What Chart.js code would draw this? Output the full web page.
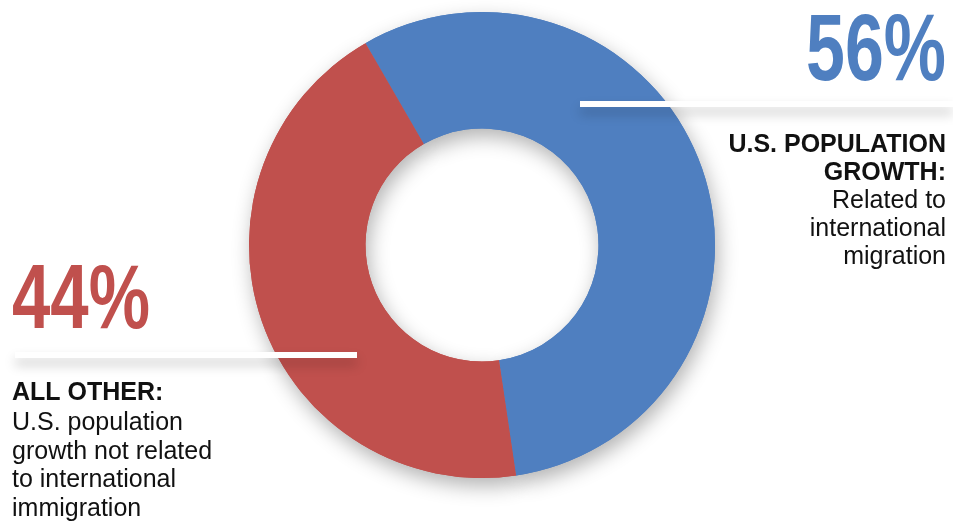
<!DOCTYPE html>
<html>
<head>
<meta charset="utf-8">
<title>U.S. population growth and international migration</title>
<script src="https://cdn.jsdelivr.net/npm/chart.js@4/dist/chart.umd.min.js"></script>
<style>
  html, body { margin: 0; padding: 0; background: #ffffff; }
  canvas { display: block; }
</style>
</head>
<body>
<canvas id="donut" width="953" height="522"></canvas>
<script>
// data
const categories = ['Related to international migration', 'All other'];
const shares = [56, 44];
const colores = ['#4f7fc0', '#c0504d'];

// texts beside the ring
const rightTitle = ['U.S. POPULATION', 'GROWTH:'];
const rightBody = ['Related to', 'international', 'migration'];
const leftTitle = ['ALL OTHER:'];
const leftBody = ['U.S. population', 'growth not related', 'to international', 'immigration'];

// draws the big condensed percentage, stretched to fit a box
function bigNumber(ctx, text, x, baseline, align, alto, ancho, color) {
  ctx.save();
  ctx.font = 'bold 100px "Liberation Sans Narrow", "Liberation Sans", sans-serif';
  const w = ctx.measureText(text).width;
  ctx.translate(x, baseline);
  ctx.scale(ancho / w, alto / 71.6);
  ctx.textAlign = align;
  ctx.textBaseline = 'alphabetic';
  ctx.fillStyle = color;
  ctx.fillText(text, 0, 0);
  ctx.restore();
}

function whiteBar(ctx, x1, x2, y) {
  ctx.save();
  ctx.shadowColor = 'rgba(0,0,0,0.22)';
  ctx.shadowBlur = 12;
  ctx.shadowOffsetY = 7;
  ctx.fillStyle = '#ffffff';
  ctx.fillRect(x1, y - 3, x2 - x1, 6);
  ctx.restore();
}

function textBlock(ctx, lines, x, y0, step, align, weight) {
  ctx.save();
  ctx.font = weight + ' 25px "Liberation Sans", Arial, sans-serif';
  ctx.fillStyle = '#111111';
  ctx.textAlign = align;
  ctx.textBaseline = 'alphabetic';
  lines.forEach((l, i) => ctx.fillText(l, x, y0 + i * step));
  ctx.restore();
}

// soft shadow under the ring: draw every arc with a shadow first
const ringShadow = {
  id: 'ringShadow',
  beforeDatasetsDraw(chart) {
    const ctx = chart.ctx;
    const meta = chart.getDatasetMeta(0);
    ctx.save();
    ctx.shadowColor = 'rgba(0,0,0,0.3)';
    ctx.shadowBlur = 20;
    ctx.shadowOffsetX = 3;
    ctx.shadowOffsetY = 8;
    meta.data.forEach(arc => arc.draw(ctx));
    ctx.restore();
  }
};

const annotations = {
  id: 'annotations',
  afterDraw(chart) {
    const ctx = chart.ctx;
    whiteBar(ctx, 580, 953, 104);
    whiteBar(ctx, 15, 357, 355);

    bigNumber(ctx, shares[0] + '%', 946, 80, 'right', 68, 140, colores[0]);
    bigNumber(ctx, shares[1] + '%', 12, 328, 'left', 65, 138, colores[1]);

    textBlock(ctx, rightTitle, 946, 152, 28, 'right', 'bold');
    textBlock(ctx, rightBody, 946, 208, 28, 'right', 'normal');
    textBlock(ctx, leftTitle, 12, 400, 29, 'left', 'bold');
    textBlock(ctx, leftBody, 12, 430, 28.5, 'left', 'normal');
  }
};

new Chart(document.getElementById('donut'), {
  type: 'doughnut',
  data: {
    labels: categories,
    datasets: [{
      data: shares,
      backgroundColor: colores,
      borderWidth: 0
    }]
  },
  options: {
    responsive: false,
    animation: false,
    rotation: -30,
    cutout: '50%',
    layout: { padding: { left: 249, right: 238, top: 12, bottom: 44 } },
    plugins: {
      legend: { display: false },
      tooltip: { enabled: false }
    }
  },
  plugins: [ringShadow, annotations]
});
</script>
</body>
</html>
